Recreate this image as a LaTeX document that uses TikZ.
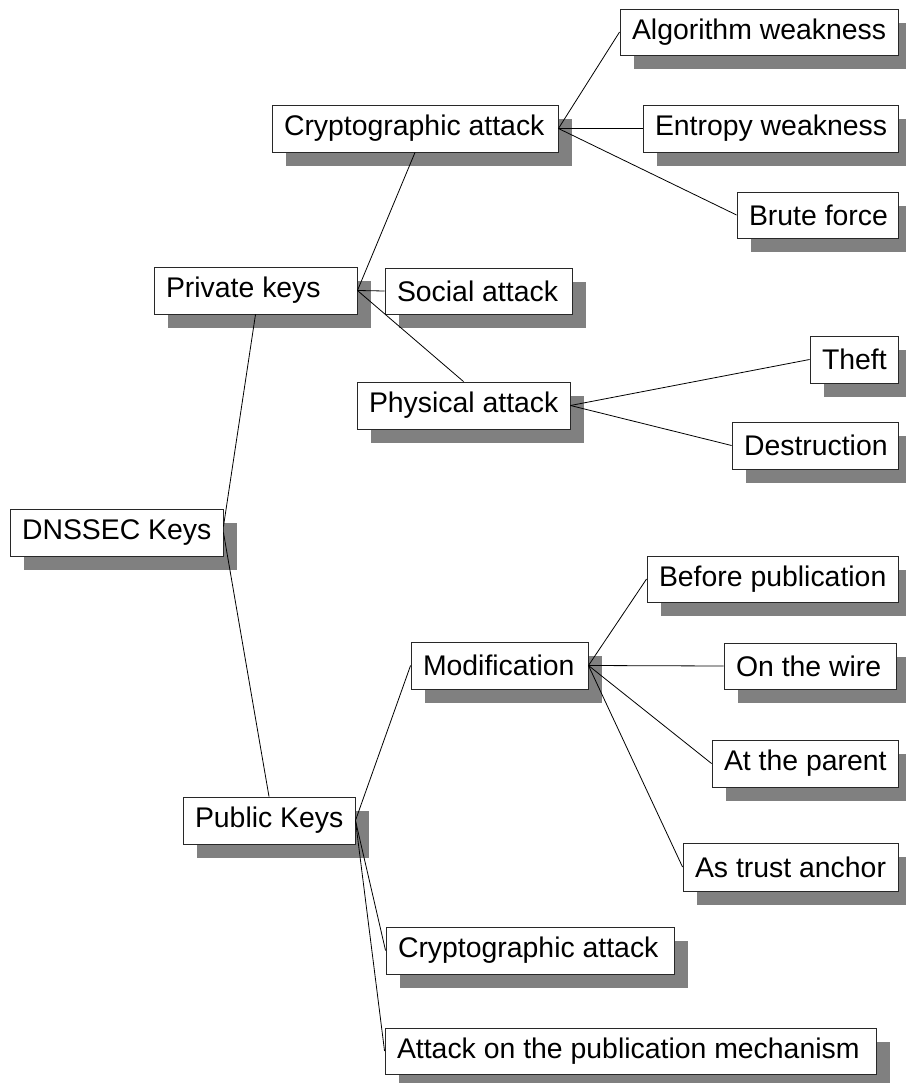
\documentclass[tikz,border=0pt]{standalone}
\usepackage{fontspec}
\setmainfont{Liberation Sans}
\usetikzlibrary{shadows}
\definecolor{shadowgray}{RGB}{128,128,128}
\definecolor{edgegray}{RGB}{40,40,40}
\tikzset{
  mmbox/.style={draw=edgegray, line width=0.9pt, fill=white, inner xsep=12pt, inner ysep=0pt,
    font=\fontsize{28.4}{34}\selectfont,
    drop shadow={shadow xshift=14pt, shadow yshift=-14pt, fill=shadowgray, opacity=1}},
  link/.style={draw=black, line width=0.8pt}
}
\newcommand{\mmnode}[6]{%
  \node[mmbox, minimum height={#5-#3}] (#1) at ({(#2+#4)/2},{(#3+#5)/2})
    {\makebox[\dimexpr #4pt-#2pt-24pt\relax][l]{#6}};}
\begin{document}
\begin{tikzpicture}[x=1pt,y=-1pt]
\useasboundingbox (0,0) rectangle (905,1083);
\mmnode{dnssec}{10}{509}{223}{556}{DNSSEC Keys}
\mmnode{pk}{154}{267}{357}{314}{Private keys}
\mmnode{pub}{183}{797}{355}{844}{Public Keys}
\mmnode{caone}{272}{105}{558}{152}{Cryptographic attack}
\mmnode{sa}{385}{268}{572}{314}{Social attack}
\mmnode{pa}{357}{382}{570}{429}{Physical attack}
\mmnode{aw}{620}{9}{898}{55}{Algorithm weakness}
\mmnode{ew}{643}{105}{898}{152}{Entropy weakness}
\mmnode{bf}{737}{192}{898}{238}{Brute force}
\mmnode{th}{810}{336}{898}{383}{Theft}
\mmnode{de}{732}{422}{898}{469}{Destruction}
\mmnode{mod}{411}{642}{588}{689}{Modification}
\mmnode{bp}{647}{556}{898}{602}{Before publication}
\mmnode{ow}{724}{643}{896}{689}{On the wire}
\mmnode{ap}{712}{740}{898}{787}{At the parent}
\mmnode{ta}{683}{843}{898}{891}{As trust anchor}
\mmnode{catwo}{386}{927}{674}{974}{Cryptographic attack}
\mmnode{apm}{385}{1028}{876}{1074}{Attack on the publication mechanism}
\draw[link] ([yshift=6pt]dnssec.east) -- (pk.south);
\draw[link] (dnssec.east) -- (pub.north);
\draw[link] (pk.east) -- (caone.south);
\draw[link] (pk.east) -- (sa.west);
\draw[link] (pk.east) -- (pa.north);
\draw[link] (caone.east) -- (aw.west);
\draw[link] (caone.east) -- (ew.west);
\draw[link] (caone.east) -- (bf.west);
\draw[link] (pa.east) -- (th.west);
\draw[link] (pa.east) -- (de.west);
\draw[link] (pub.east) -- (mod.west);
\draw[link] (pub.east) -- (catwo.west);
\draw[link] (pub.east) -- (apm.west);
\draw[link] (mod.east) -- (bp.west);
\draw[link] (mod.east) -- (ow.west);
\draw[link] (mod.east) -- (ap.west);
\draw[link] (mod.east) -- (ta.west);
\end{tikzpicture}
\end{document}
